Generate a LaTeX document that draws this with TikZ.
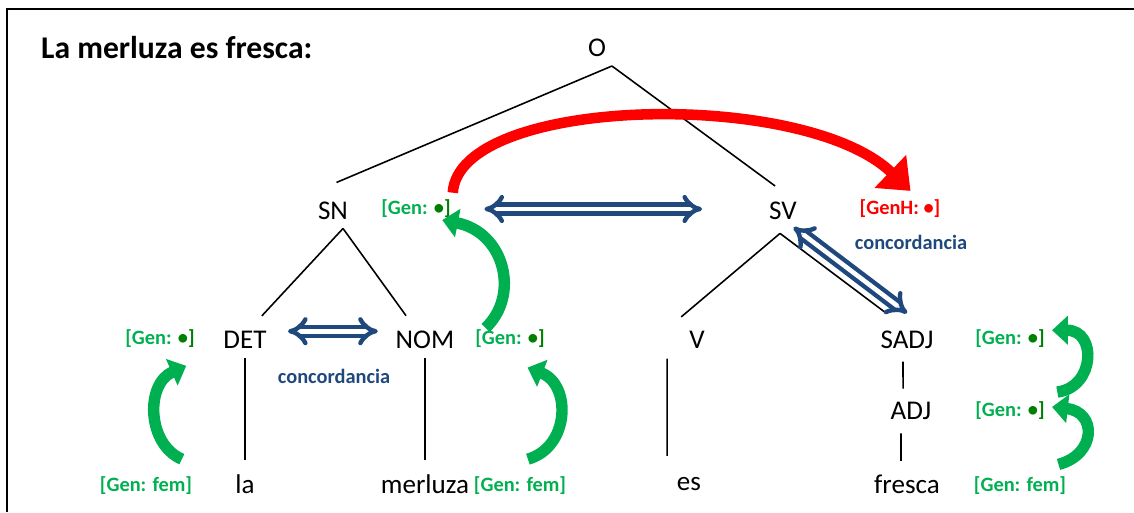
\documentclass[tikz,border=0pt]{standalone}
\usepackage{fontspec}
\setmainfont{Carlito}
\usepackage{tikz}
\usetikzlibrary{arrows.meta, positioning}

\newcommand{\gendot}{[Gen: \textcolor{gendark}{•]}}

\begin{document}
\begin{tikzpicture}[x=0.02cm, y=-0.02cm,
        cat/.style={font=\fontsize{15.4}{18}\selectfont, inner sep=2pt},
        feat/.style={font=\fontsize{11.6}{14}\selectfont\bfseries, text=gengreen, inner sep=1pt},
        conc/.style={font=\fontsize{11.6}{14}\selectfont\bfseries, text=concblue, inner sep=1pt},
        branch/.style={line width=0.9pt},
        agree/.style={draw=concblue, line width=2.5pt, double=white, double distance=2.6pt, {Implies[scale=1.25]}-{Implies[scale=1.25]}},
        percol/.style={draw=gengreen, line width=6.5pt, -{Triangle[width=16pt,length=9pt]}},
        heredit/.style={draw=genred, line width=6pt, -{Triangle[width=25pt,length=16pt]}}]
        \definecolor{gengreen}{HTML}{00B050}
        \definecolor{gendark}{HTML}{008000}
        \definecolor{genred}{HTML}{FF0000}
        \definecolor{concblue}{HTML}{1F497D}
        \useasboundingbox (0,0) rectangle (1134,512);
        \draw[line width=1.2pt] (7,512) -- (7,9) -- (1134,9);

        \node[anchor=west, font=\fontsize{18}{21}\selectfont\bfseries] (title) at (35,48) {La merluza es fresca:};

        % tree
        \node[cat] (o) at (597,48) {O};
        \node[cat] (sn) at (333,211) {SN};
        \node[cat] (sv) at (783,211) {SV};
        \node[cat] (det) at (245,340) {DET};
        \node[cat] (nom) at (425,340) {NOM};
        \node[cat] (v) at (697,340) {V};
        \node[cat] (sadj) at (907,340) {SADJ};
        \node[cat] (adj) at (911,411) {ADJ};
        \node[cat] (la) at (245,484) {la};
        \node[cat] (merluza) at (425,484) {merluza};
        \node[cat] (es) at (689,484) {es};
        \node[cat] (fresca) at (907,484) {fresca};

        \draw[branch] ([xshift=8.5pt,yshift=-3pt]o.south) -- ([xshift=2pt,yshift=9pt]sn.north);
        \draw[branch] ([xshift=8.5pt,yshift=-3pt]o.south) -- ([xshift=-4.5pt,yshift=7pt]sv.north);
        \draw[branch] ([xshift=5.7pt,yshift=-2.7pt]sn.south) -- ([xshift=9.6pt,yshift=6.6pt]det.north);
        \draw[branch] ([xshift=5.7pt,yshift=-2.7pt]sn.south) -- ([xshift=-10.8pt,yshift=6.6pt]nom.north);
        \draw[branch] ([xshift=-1.7pt,yshift=-5.5pt]sv.south) -- ([xshift=-9pt,yshift=6pt]v.north);
        \draw[branch] ([xshift=-1.7pt,yshift=-5.5pt]sv.south) -- ([xshift=-13pt,yshift=8.9pt]sadj.north);
        \draw[branch] ([yshift=-3.2pt]det.south) -- ([yshift=6.2pt]la.north);
        \draw[branch] ([yshift=-3.2pt]nom.south) -- ([yshift=6.2pt]merluza.north);
        \draw[branch] ([xshift=-17pt,yshift=-3.5pt]v.south) -- ([xshift=-12.5pt,yshift=10pt]es.north);
        \draw[branch] ([xshift=-2.3pt,yshift=-5pt]sadj.south) -- ([xshift=-4.5pt,yshift=5.5pt]adj.north);
        \draw[branch] ([xshift=-5.7pt,yshift=-5.5pt]adj.south) -- ([xshift=-3.4pt,yshift=5.7pt]fresca.north);

        % features
        \node[feat] (gsn) at (416,209) {\gendot};
        \node[feat, text=genred] (genh) at (900,209) {[GenH: •]};
        \node[conc] (conc1) at (911,242) {concordancia};
        \node[feat] (gdet) at (160,339) {\gendot};
        \node[feat] (gnom) at (510,339) {\gendot};
        \node[conc] (conc2) at (334,376) {concordancia};
        \node[feat] (gla) at (146,486) {[Gen: fem]};
        \node[feat] (gmer) at (520,486) {[Gen: fem]};
        \node[feat] (gsadj) at (1010,339) {\gendot};
        \node[feat] (gadj) at (1010,411) {\gendot};
        \node[feat] (gfre) at (1020,486) {[Gen: fem]};

        % concordancia
        \draw[agree, shorten <=18pt, shorten >=36pt] (gsn.east) -- (gsn.east -| sv.west);
        \draw[agree, shorten <=10pt, shorten >=8pt] ([yshift=5pt]det.east) -- ([yshift=5pt]det.east -| nom.west);
        \draw[agree] ([xshift=-4pt,yshift=-2pt]sv.south east) -- ([yshift=8pt]sadj.north);

        % percolation
        \draw[percol] ([xshift=7pt]gnom.north west) .. controls +(35,-33) and +(62,12) .. ([xshift=-6pt]gsn.south east);
        \draw[percol] ([xshift=-7pt,yshift=9pt]gla.north east) .. controls +(-35,-15) and +(-41,18) .. ([xshift=-6pt,yshift=-9pt]gdet.south east);
        \draw[percol] ([xshift=4.5pt,yshift=9pt]gmer.north) .. controls +(42,-12) and +(44,17) .. ([xshift=10pt,yshift=-10pt]gnom.south);
        \draw[percol] ([xshift=6pt,yshift=4.5pt]gadj.north east) .. controls +(38,-5) and +(45,0) .. ([xshift=3pt,yshift=5pt]gsadj.east);
        \draw[percol] ([xshift=-5.5pt,yshift=6pt]gfre.north east) .. controls +(38,-10) and +(45,5) .. ([xshift=3pt,yshift=2.3pt]gadj.east);

        % herencia
        \draw[heredit] ([yshift=3pt]gsn.north east) .. controls +(6,-97) and +(-107,-103) .. ([xshift=6pt,yshift=4pt]genh.north);
\end{tikzpicture}
\end{document}
